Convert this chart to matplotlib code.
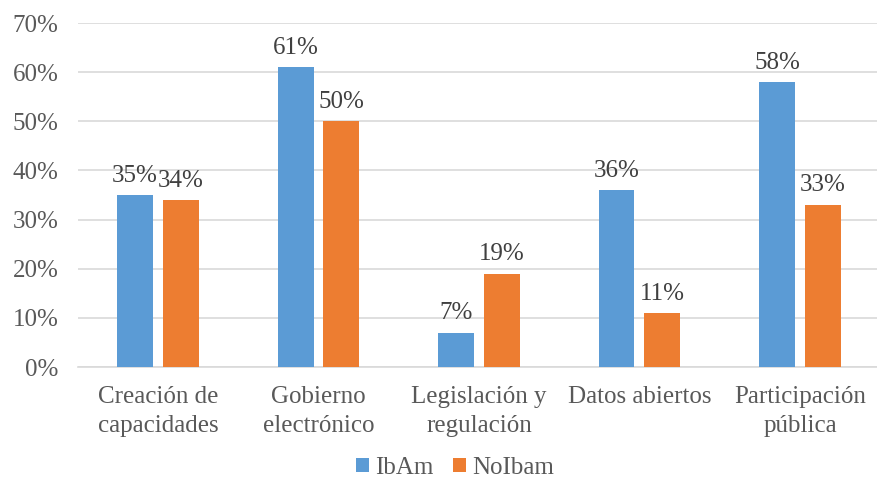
import matplotlib
matplotlib.use("Agg")
import matplotlib.pyplot as plt
import numpy as np

categories = ["Creación de\ncapacidades", "Gobierno\nelectrónico", "Legislación y\nregulación",
              "Datos abiertos", "Participación\npública"]
ibam = [0.35, 0.61, 0.07, 0.36, 0.58]
noibam = [0.34, 0.50, 0.19, 0.11, 0.33]
series_names = ["IbAm", "NoIbam"]
yticks = [0, 0.1, 0.2, 0.3, 0.4, 0.5, 0.6, 0.7]

plt.rcParams['font.family'] = ['Liberation Serif', 'DejaVu Serif']
text_color = "#595959"
blue = "#5B9BD5"
orange = "#ED7D31"
fs = 18

fig = plt.figure(figsize=(8.77, 4.82), dpi=100)
ax = fig.add_axes([77.75 / 877, 115 / 482, 799.25 / 877, 344 / 482])

x = np.arange(len(categories))
w = 0.224
off = 0.143
b1 = ax.bar(x - off, ibam, w, color=blue, label=series_names[0], zorder=3)
b2 = ax.bar(x + off, noibam, w, color=orange, label=series_names[1], zorder=3)

for bars, vals in ((b1, ibam), (b2, noibam)):
    for rect, v in zip(bars, vals):
        ax.annotate(f"{round(v * 100)}%", (rect.get_x() + rect.get_width() / 2, v),
                    xytext=(0, 6), textcoords="offset points", ha="center", va="bottom",
                    fontsize=fs, color="#404040")

ax.set_ylim(0, 0.7)
ax.set_xlim(-0.5, 4.48)
ax.set_yticks(yticks)
ax.set_yticklabels([f"{round(t * 100)}%" for t in yticks])
ax.set_xticks(x)
ax.set_xticklabels(categories, linespacing=1.4)
ax.tick_params(axis="both", length=0, labelsize=fs, colors=text_color)
ax.tick_params(axis="x", pad=14)
ax.tick_params(axis="y", pad=14)
ax.grid(axis="y", color="#D9D9D9", linewidth=1.2, zorder=0)
for s in ("top", "right", "left"):
    ax.spines[s].set_visible(False)
ax.spines["bottom"].set_color("#D9D9D9")
ax.spines["bottom"].set_linewidth(1.2)

leg = fig.legend(handles=[b1, b2], labels=series_names, loc="center", bbox_to_anchor=(455 / 877, 1 - 468 / 482),
                 ncol=2, frameon=False, fontsize=fs, handlelength=0.5, handleheight=0.5,
                 handletextpad=0.25, columnspacing=0.8, borderpad=0.2)
for t in leg.get_texts():
    t.set_color(text_color)

fig.savefig("out.png", dpi=100)
